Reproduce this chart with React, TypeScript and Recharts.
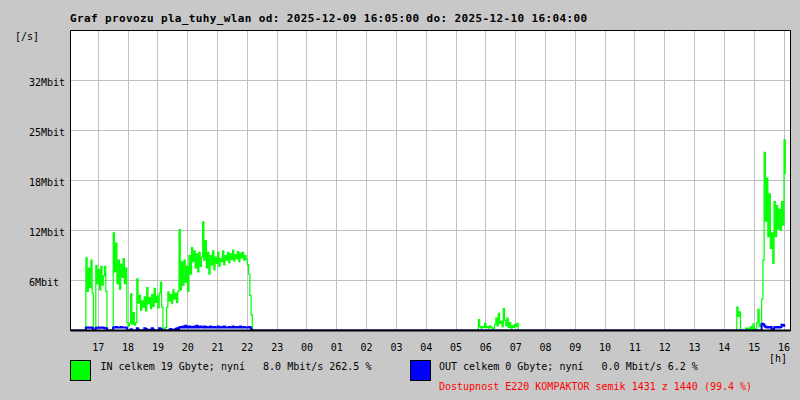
import { LineChart, Line, XAxis, YAxis, CartesianGrid, ReferenceArea, ReferenceLine } from "recharts";

// 2.5 minute samples, sample 0 = 16:05, values in Mbit/s
const hourLabels = ["17", "18", "19", "20", "21", "22", "23", "00", "01", "02", "03", "04",
  "05", "06", "07", "08", "09", "10", "11", "12", "13", "14", "15", "16"];
const yTickValues = [6.4, 12.8, 19.2, 25.6, 32];
const yTickLabels = ["6Mbit", "12Mbit", "18Mbit", "25Mbit", "32Mbit"];

const inEveningStart = 12;
const inEvening = [
  9.3, 5.0, 8.0, 5.5, 9.0, 4.8, 0, 0, 8.3, 6.0,
  7.8, 5.2, 8.2, 5.8, 7.0, 8.2, 5.0, 0, 0, 0,
  0, 0, 12.5, 7.5, 11.2, 6.0, 9.0, 5.3, 8.5, 6.8,
  9.2, 6.0, 8.0, 1.0, 0.6, 0.9, 4.7, 0.8, 2.3, 0.7,
  1.0, 6.6, 3.5, 4.5, 2.6, 3.8, 3.0, 4.3, 2.5, 5.5,
  3.4, 4.2, 2.8, 4.6, 3.1, 5.4, 3.6, 4.4, 2.9, 4.8,
  6.2, 3.0, 0.3, 0, 0.4, 3.0, 4.9, 3.8, 4.6, 3.5,
  5.2, 4.0, 4.8, 3.6, 5.0, 12.9, 5.2, 8.8, 5.8, 9.0,
  6.2, 8.2, 5.0, 9.6, 7.2, 10.6, 8.8, 10.2, 8.0, 9.8,
  7.5, 10.0, 8.2, 9.4, 13.9, 9.0, 11.5, 8.0, 10.0, 7.2,
  9.6, 8.4, 10.2, 7.8, 9.4, 8.6, 10.0, 8.2, 9.2, 8.8,
  10.2, 8.4, 9.6, 9.0, 10.0, 8.7, 9.8, 9.1, 10.3, 8.9,
  9.7, 9.2, 10.1, 8.8, 9.9, 9.3, 10.0, 9.0, 9.6, 9.1,
  8.4, 7.2, 4.5, 2.0,
];
const inMorningStart = 328;
const inMorning = [
  1.4, 0.5, 0.3, 0.5, 0.4, 0.9, 0.4, 0.5, 0.3, 0.6,
  0.4, 0.2, 0.3, 0.8, 1.6, 0.6, 2.2, 0.9, 1.2, 0.5,
  2.8, 1.3, 0.6, 1.6, 0.4, 1.0, 0.3, 0.6, 0.4, 0.8,
  0.5, 0.9,
];
const inAfternoonStart = 536;
const inAfternoon = [
  3.0, 1.8, 2.4, 0, 0, 0, 0, 0.3, 0.2, 0.3,
  0, 0.5, 0.2, 0.85, 0.2, 0, 1.0, 2.7, 0.5, 0.8,
  4.0, 9.0, 22.8, 14.0, 19.5, 12.0, 17.5, 10.5, 12.5, 8.6,
  16.5, 12.0, 16.0, 13.0, 15.5, 12.8, 16.5, 13.5, 24.4, 20.0,
];

const outEveningStart = 12;
const outEvening = [
  0.4, 0.4, 0.35, 0.4, 0.4, 0.3, 0, 0,
  0.35, 0.35, 0.4, 0.35, 0.35, 0.4, 0.35, 0.3, 0.3,
  0, 0, 0, 0, 0,
  0.4, 0.4, 0.45, 0.4, 0.4, 0.4, 0.45, 0.4, 0.4, 0.4, 0.4,
  0, 0, 0, 0.15, 0, 0, 0, 0, 0.3, 0.1,
  0, 0, 0, 0, 0.3, 0.2, 0, 0, 0.1, 0,
  0.3, 0.1, 0, 0, 0, 0, 0.3, 0.2, 0, 0,
  0, 0, 0, 0, 0.1, 0.2, 0, 0, 0.1, 0.2,
  0.3, 0.2,
  0.4, 0.45, 0.4, 0.5, 0.4, 0.6, 0.45, 0.4, 0.5, 0.4,
  0.45, 0.4, 0.5, 0.4, 0.6, 0.4, 0.45, 0.5, 0.4, 0.4,
  0.5, 0.4, 0.45, 0.4, 0.4, 0.5, 0.4, 0.4, 0.45, 0.4,
  0.4, 0.5, 0.4, 0.4, 0.45, 0.4, 0.5, 0.4, 0.4, 0.4,
  0.45, 0.4, 0.4, 0.5, 0.4, 0.4, 0.45, 0.4, 0.4, 0.5,
  0.4, 0.4, 0.45, 0.4, 0.4, 0.4, 0.45, 0.4,
  0.1,
];
const outAfternoonStart = 556;
const outAfternoon = [
  0.85, 0.8, 0.6, 0.45, 0.4, 0.45, 0.4, 0.45, 0.15, 0.13,
  0.4, 0.45, 0.4, 0.45, 0.4, 0.45, 0.75, 0.7, 0.6, 0.6,
];

const SAMPLES = 576;
const T_MIN = -0.9325;
const T_MAX = 23.218;
const Y_MAX = 38.4;

const pick = (i: number, start: number, vals: number[]) =>
  i >= start && i < start + vals.length ? vals[i - start] : undefined;

const data = Array.from({ length: SAMPLES }, (_, i) => ({
  t: (2.5 * i - 55) / 60,
  inMbit: pick(i, inEveningStart, inEvening) ?? pick(i, inMorningStart, inMorning) ?? pick(i, inAfternoonStart, inAfternoon) ?? 0,
  outMbit: pick(i, outEveningStart, outEvening) ?? pick(i, outAfternoonStart, outAfternoon) ?? 0,
}));

const FONT = "'DejaVu Sans Mono', monospace";

const XTick = (props: any) => (
  <text x={props.x} y={props.y + 20} textAnchor="middle" fontFamily={FONT} fontSize={10} fill="#000">
    {hourLabels[props.payload.value]}
  </text>
);

const YTick = (props: any) => (
  <text x={29} y={props.y + 5} textAnchor="start" fontFamily={FONT} fontSize={10} fill="#000">
    {yTickLabels[yTickValues.indexOf(props.payload.value)]}
  </text>
);

export default function App() {
  return (
    <div style={{ position: "absolute", left: 0, top: 0, width: 800, height: 400, background: "#c8c8c8" }}>
      <LineChart width={800} height={400} data={data} margin={{ top: 30.5, right: 9.5, bottom: 0, left: 0.5 }}>
        <CartesianGrid stroke="#c0c0c0" fill="#ffffff" shapeRendering="crispEdges" />
        <XAxis
          type="number"
          dataKey="t"
          domain={[T_MIN, T_MAX]}
          allowDataOverflow
          ticks={hourLabels.map((_, i) => i)}
          tick={<XTick />}
          tickSize={0}
          tickMargin={0}
          axisLine={false}
          tickLine={false}
          height={69.5}
          interval={0}
        />
        <YAxis
          type="number"
          domain={[0, Y_MAX]}
          allowDataOverflow
          ticks={yTickValues}
          tick={<YTick />}
          axisLine={false}
          tickLine={false}
          width={70}
          interval={0}
        />
        <Line type="stepAfter" dataKey="inMbit" stroke="#00ff00" strokeWidth={1.2} dot={false} isAnimationActive={false} />
        <Line type="stepAfter" dataKey="outMbit" stroke="#0000ff" strokeWidth={2} dot={false} isAnimationActive={false} />
        <ReferenceLine y={0} stroke="#000" strokeWidth={2} />
        <ReferenceArea x1={T_MIN} x2={T_MAX} y1={0} y2={Y_MAX} fill="none" stroke="#000" strokeWidth={1} />
      </LineChart>
      <svg width={800} height={400} style={{ position: "absolute", left: 0, top: 0, pointerEvents: "none" }}>
        <text x={70} y={22} fontFamily={FONT} fontSize={11} fontWeight="bold" textLength={517} lengthAdjust="spacing">
          Graf provozu pla_tuhy_wlan od: 2025-12-09 16:05:00 do: 2025-12-10 16:04:00
        </text>
        <text x={15} y={40} fontFamily={FONT} fontSize={10}>[/s]</text>
        <text x={769} y={362} fontFamily={FONT} fontSize={10}>[h]</text>
        <rect x={70.5} y={360.5} width={20} height={20} fill="#00ff00" stroke="#000" />
        <text x={100.5} y={370} fontFamily={FONT} fontSize={10} style={{ whiteSpace: "pre" }}>
          IN celkem 19 Gbyte; nyní   8.0 Mbit/s 262.5 %
        </text>
        <rect x={410.5} y={360.5} width={20} height={20} fill="#0000ff" stroke="#000" />
        <text x={439} y={370} fontFamily={FONT} fontSize={10} style={{ whiteSpace: "pre" }}>
          OUT celkem 0 Gbyte; nyní   0.0 Mbit/s 6.2 %
        </text>
        <text x={439} y={390} fontFamily={FONT} fontSize={10} fill="#ff0000">
          Dostupnost E220 KOMPAKTOR semik 1431 z 1440 (99.4 %)
        </text>
      </svg>
    </div>
  );
}
